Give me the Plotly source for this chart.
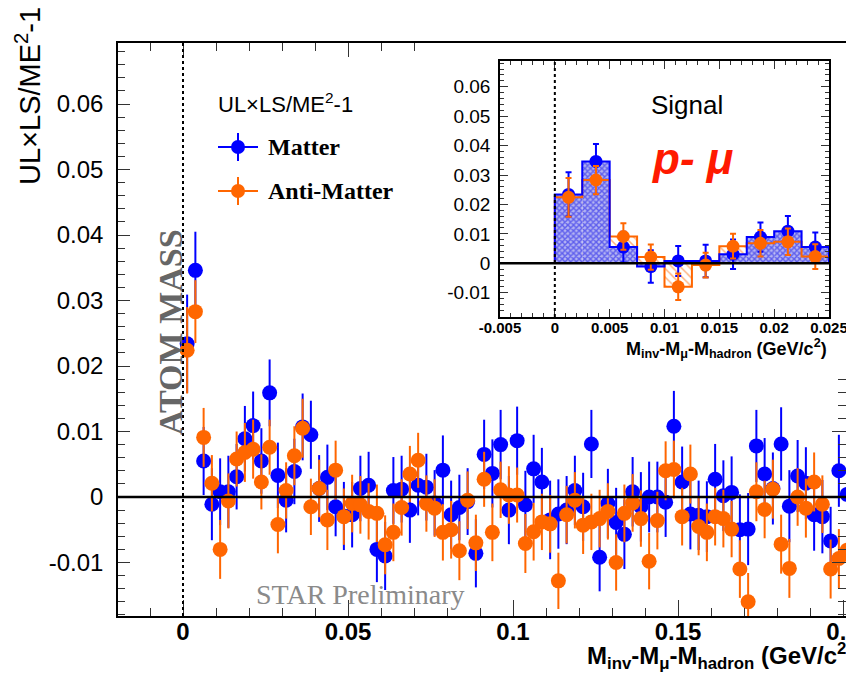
import numpy as np
import plotly.graph_objects as go

# ---------------- data ----------------
BIN_WIDTH = 0.0025  # GeV/c^2

matter_vals = [
    0.0234, 0.0346, 0.0055, -0.0011, 0.0008, 0.0008, 0.0031, 0.0089, 0.0109, 0.0055,
    0.0159, 0.0033, -0.0005, 0.0039, 0.0107, 0.0095, 0.0013, 0.0030, -0.0015, -0.0029,
    -0.0027, 0.0013, 0.0018, -0.0080, -0.0090, 0.0010, 0.0012, -0.0020, 0.0018, 0.0015,
    -0.0009, 0.0041, -0.0027, -0.0016, -0.0007, -0.0086, 0.0065, 0.0036, 0.0080, -0.0020,
    0.0086, -0.0012, 0.0043, 0.0023, -0.0035, -0.0026, -0.0020, 0.0010, -0.0015, 0.0081,
    -0.0092, -0.0010, -0.0039, -0.0057, 0.0008, -0.0015, 0.0000, 0.0000, -0.0008, 0.0108,
    0.0023, -0.0026, -0.0028, -0.0030, 0.0027, 0.0002, 0.0007, -0.0050, -0.0049, 0.0078,
    0.0035, 0.0013, 0.0081, -0.0014, 0.0032, 0.0021, -0.0027, -0.0030, -0.0067, 0.0040,
    0.0004,
]
matter_errs = [
    0.0075, 0.0059, 0.0052, 0.0055, 0.0051, 0.0055, 0.0050, 0.0050, 0.0052, 0.0050,
    0.0051, 0.0050, 0.0049, 0.0050, 0.0051, 0.0052, 0.0051, 0.0050, 0.0045, 0.0052,
    0.0050, 0.0050, 0.0051, 0.0050, 0.0052, 0.0051, 0.0051, 0.0050, 0.0046, 0.0051,
    0.0050, 0.0053, 0.0052, 0.0050, 0.0051, 0.0052, 0.0053, 0.0052, 0.0053, 0.0052,
    0.0052, 0.0052, 0.0052, 0.0052, 0.0060, 0.0053, 0.0052, 0.0053, 0.0052, 0.0052,
    0.0052, 0.0053, 0.0053, 0.0053, 0.0053, 0.0053, 0.0054, 0.0054, 0.0053, 0.0054,
    0.0054, 0.0054, 0.0053, 0.0054, 0.0054, 0.0054, 0.0055, 0.0054, 0.0055, 0.0055,
    0.0055, 0.0055, 0.0056, 0.0055, 0.0055, 0.0055, 0.0055, 0.0056, 0.0052, 0.0055,
    0.0056,
]
antimatter_vals = [
    0.0224, 0.0283, 0.0091, 0.0021, -0.0080, -0.0006, 0.0058, 0.0068, 0.0073, 0.0023,
    0.0076, -0.0042, 0.0010, 0.0063, 0.0105, -0.0015, 0.0013, -0.0035, 0.0041, -0.0030,
    -0.0010, -0.0012, -0.0022, -0.0025, -0.0073, -0.0054, -0.0016, 0.0035, 0.0056, -0.0010,
    -0.0017, -0.0054, -0.0050, -0.0082, -0.0005, -0.0070, 0.0027, -0.0054, 0.0011, 0.0003,
    0.0003, -0.0071, -0.0053, -0.0038, -0.0041, -0.0128, -0.0027, -0.0005, -0.0043, -0.0038,
    -0.0033, -0.0022, -0.0100, -0.0025, -0.0009, -0.0033, -0.0098, -0.0036, 0.0040, 0.0042,
    -0.0030, 0.0035, -0.0045, -0.0054, -0.0030, -0.0033, -0.0049, -0.0110, -0.0160, 0.0008,
    -0.0019, 0.0012, -0.0072, -0.0109, 0.0000, -0.0017, 0.0023, -0.0011, -0.0110, -0.0094,
    -0.0081,
]
antimatter_errs = [
    0.0066, 0.0048, 0.0045, 0.0043, 0.0045, 0.0042, 0.0042, 0.0045, 0.0045, 0.0042,
    0.0042, 0.0044, 0.0043, 0.0045, 0.0045, 0.0043, 0.0044, 0.0046, 0.0045, 0.0043,
    0.0044, 0.0044, 0.0043, 0.0044, 0.0045, 0.0044, 0.0043, 0.0043, 0.0042, 0.0043,
    0.0044, 0.0043, 0.0044, 0.0045, 0.0044, 0.0043, 0.0042, 0.0044, 0.0043, 0.0044,
    0.0042, 0.0045, 0.0044, 0.0043, 0.0044, 0.0043, 0.0044, 0.0043, 0.0044, 0.0043,
    0.0044, 0.0043, 0.0043, 0.0044, 0.0044, 0.0043, 0.0043, 0.0044, 0.0045, 0.0044,
    0.0044, 0.0045, 0.0044, 0.0044, 0.0044, 0.0044, 0.0043, 0.0044, 0.0044, 0.0045,
    0.0044, 0.0045, 0.0045, 0.0045, 0.0044, 0.0045, 0.0045, 0.0044, 0.0045, 0.0045,
    0.0045,
]
N_INSET = 10  # signal region shown in the inset: first 10 bins

main_y_ticks = [-0.01, 0.0, 0.01, 0.02, 0.03, 0.04, 0.05, 0.06]
main_y_labels = ["-0.01", "0", "0.01", "0.02", "0.03", "0.04", "0.05", "0.06"]
main_x_ticks = [0.0, 0.05, 0.10, 0.15, 0.20]
main_x_labels = ["0", "0.05", "0.1", "0.15", "0.2"]
inset_x_ticks = [-0.005, 0.0, 0.005, 0.01, 0.015, 0.02, 0.025]
inset_x_labels = ["-0.005", "0", "0.005", "0.01", "0.015", "0.02", "0.025"]

# ---------------- styling ----------------
W, H = 846, 674
BLUE = "#0000ff"
ORANGE = "#ff6600"
SANS = "Liberation Sans, Arial, Helvetica, sans-serif"
SERIF = "Liberation Serif, Times New Roman, serif"


def fx(px):
    return px / W


def fy(py):
    return 1 - py / H


centers = BIN_WIDTH * (np.arange(len(matter_vals)) + 0.5)
edges = BIN_WIDTH * np.arange(N_INSET + 1)

# main frame (pixel geometry) and ranges
MX0, MX1, MY0, MY1 = 118, 846, 43, 616
x_per_px = 0.2 / (843 - 183)
main_xrange = [(MX0 - 183) * x_per_px, (MX1 - 183) * x_per_px]
y_per_px = 0.01 / 65.5
main_yrange = [(497 - MY1) * y_per_px, (497 - MY0) * y_per_px]

# inset frame
IX0, IX1, IY0, IY1 = 500, 829, 61, 317
iy_per_px = 0.06 / (263.3 - 86.7)
inset_yrange = [(263.3 - IY1) * iy_per_px, (263.3 - IY0) * iy_per_px]
inset_xrange = [-0.005, 0.025]

fig = go.Figure()

# ---------------- main panel ----------------
fig.add_trace(go.Scatter(
    x=centers, y=matter_vals, mode="markers", name="Matter",
    marker=dict(color=BLUE, size=15, line=dict(width=0)),
    error_y=dict(type="data", array=matter_errs, color=BLUE, thickness=2, width=0),
    xaxis="x", yaxis="y", showlegend=False, cliponaxis=True,
))
fig.add_trace(go.Scatter(
    x=centers, y=antimatter_vals, mode="markers", name="Anti-Matter",
    marker=dict(color=ORANGE, size=15, line=dict(width=0)),
    error_y=dict(type="data", array=antimatter_errs, color=ORANGE, thickness=2, width=0),
    xaxis="x", yaxis="y", showlegend=False, cliponaxis=True,
))

# ---------------- inset: signal region ----------------
ins_m = matter_vals[:N_INSET]
ins_a = antimatter_vals[:N_INSET]
ins_c = centers[:N_INSET]

fig.add_trace(go.Bar(
    x=ins_c, y=ins_a, width=BIN_WIDTH, xaxis="x2", yaxis="y2", showlegend=False,
    marker=dict(color="rgba(0,0,0,0)", line=dict(width=0),
                pattern=dict(shape="\\", fgcolor=ORANGE, bgcolor="rgba(255,255,255,0)",
                             size=6, solidity=0.25)),
))
fig.add_trace(go.Bar(
    x=ins_c, y=ins_m, width=BIN_WIDTH, xaxis="x2", yaxis="y2", showlegend=False,
    marker=dict(color="rgba(0,0,0,0)", line=dict(width=0),
                pattern=dict(shape="x", fgcolor="#0a0ae8", bgcolor="#b4b4f2",
                             size=4, solidity=0.6)),
))

step_x = np.concatenate([[edges[0]], edges])
for vals, col in ((ins_a, ORANGE), (ins_m, BLUE)):
    step_y = np.concatenate([[0.0], vals, [0.0]])
    fig.add_trace(go.Scatter(
        x=step_x, y=step_y, mode="lines", line=dict(color=col, width=2, shape="hv"),
        xaxis="x2", yaxis="y2", showlegend=False, hoverinfo="skip",
    ))

fig.add_trace(go.Scatter(
    x=ins_c, y=ins_m, mode="markers", xaxis="x2", yaxis="y2", showlegend=False,
    marker=dict(color=BLUE, size=13, line=dict(width=0)),
    error_y=dict(type="data", array=matter_errs[:N_INSET], color=BLUE, thickness=2, width=3),
))
fig.add_trace(go.Scatter(
    x=ins_c, y=ins_a, mode="markers", xaxis="x2", yaxis="y2", showlegend=False,
    marker=dict(color=ORANGE, size=13, line=dict(width=0)),
    error_y=dict(type="data", array=antimatter_errs[:N_INSET], color=ORANGE, thickness=2, width=3),
))

# ---------------- axes ----------------
tick_common = dict(ticks="inside", tickcolor="#333", tickwidth=1, showgrid=False,
                   zeroline=False, showline=True, linecolor="black", linewidth=1.5,
                   automargin=False)

fig.update_layout(
    width=W, height=H, margin=dict(l=0, r=0, t=0, b=0, pad=0, autoexpand=False),
    paper_bgcolor="white", plot_bgcolor="white", barmode="overlay", showlegend=False,
    xaxis=dict(
        domain=[fx(MX0), fx(MX1)], range=main_xrange, anchor="y",
        tickmode="array", tickvals=main_x_ticks, ticktext=main_x_labels,
        ticklen=16, ticklabeloverflow="allow", ticklabelstandoff=-7,
        tickfont=dict(family=SANS, size=24, color="black", weight="bold"),
        minor=dict(tickmode="linear", tick0=0, dtick=0.01, ticklen=8, ticks="inside",
                   tickcolor="#333"),
        **tick_common,
    ),
    yaxis=dict(
        domain=[fy(MY1), fy(MY0)], range=main_yrange, anchor="x",
        tickmode="array", tickvals=main_y_ticks, ticktext=main_y_labels,
        ticklen=12, ticklabelstandoff=8,
        tickfont=dict(family=SANS, size=24, color="black"),
        minor=dict(tickmode="linear", tick0=0, dtick=0.002, ticklen=7, ticks="inside",
                   tickcolor="#333"),
        **tick_common,
    ),
    # top edge of the main frame: ticks only where the inset pad leaves room
    xaxis3=dict(
        overlaying="x", side="top", range=main_xrange, anchor="y",
        tickmode="array", tickvals=[0.0, 0.05], showticklabels=False, ticklen=14,
        minor=dict(tickmode="array", tickvals=list(np.round(np.arange(-0.01, 0.0701, 0.01), 3)),
                   ticklen=8, ticks="inside", tickcolor="#333"),
        **tick_common,
    ),
    # right edge of the main frame, below the inset pad
    yaxis3=dict(
        overlaying="y", side="right", range=main_yrange, anchor="x",
        tickmode="array", tickvals=[-0.01, 0.0, 0.01], showticklabels=False, ticklen=14,
        minor=dict(tickmode="array", tickvals=list(np.round(np.arange(-0.018, 0.0181, 0.002), 3)),
                   ticklen=8, ticks="inside", tickcolor="#333"),
        **tick_common,
    ),
    xaxis2=dict(
        domain=[fx(IX0), fx(IX1)], range=inset_xrange, anchor="y2", mirror="ticks",
        tickmode="array", tickvals=inset_x_ticks, ticktext=inset_x_labels,
        ticklen=8, ticklabelstandoff=-4, ticklabeloverflow="allow",
        tickfont=dict(family=SANS, size=15, color="black", weight="bold"),
        minor=dict(tickmode="linear", tick0=0, dtick=0.001, ticklen=4, ticks="inside",
                   tickcolor="#333"),
        **tick_common,
    ),
    yaxis2=dict(
        domain=[fy(IY1), fy(IY0)], range=inset_yrange, anchor="x2", mirror="ticks",
        tickmode="array", tickvals=main_y_ticks, ticktext=main_y_labels,
        ticklen=8, ticklabelstandoff=4,
        tickfont=dict(family=SANS, size=19, color="black"),
        minor=dict(tickmode="linear", tick0=0, dtick=0.002, ticklen=4, ticks="inside",
                   tickcolor="#333"),
        **tick_common,
    ),
)

# invisible anchors so the overlay frame axes get drawn
fig.add_trace(go.Scatter(x=[None], y=[None], xaxis="x3", yaxis="y", showlegend=False))
fig.add_trace(go.Scatter(x=[None], y=[None], xaxis="x", yaxis="y3", showlegend=False))

# ---------------- reference lines ----------------
shapes = [
    dict(type="line", xref="x domain", yref="y", x0=0, x1=1, y0=0, y1=0,
         line=dict(color="black", width=2.5), layer="above"),
    dict(type="line", xref="x", yref="y domain", x0=0, x1=0, y0=0, y1=1,
         line=dict(color="black", width=2, dash="dot"), layer="above"),
    dict(type="line", xref="x2 domain", yref="y2", x0=0, x1=1, y0=0, y1=0,
         line=dict(color="black", width=2.5), layer="above"),
    dict(type="line", xref="x2", yref="y2 domain", x0=0, x1=0, y0=0, y1=1,
         line=dict(color="black", width=2, dash="dot"), layer="above"),
]

# legend glyphs (marker with error cross)
for py, col in ((147, BLUE), (191, ORANGE)):
    shapes += [
        dict(type="line", xref="paper", yref="paper", x0=fx(218), x1=fx(258), y0=fy(py), y1=fy(py),
             line=dict(color=col, width=2)),
        dict(type="line", xref="paper", yref="paper", x0=fx(238), x1=fx(238), y0=fy(py - 14), y1=fy(py + 14),
             line=dict(color=col, width=2)),
        dict(type="circle", xref="paper", yref="paper", x0=fx(231), x1=fx(245), y0=fy(py + 7), y1=fy(py - 7),
             fillcolor=col, line=dict(width=0)),
    ]
fig.update_layout(shapes=shapes)

# ---------------- text ----------------
xtitle = "M<sub>inv</sub>-M<sub>μ</sub>-M<sub>hadron</sub> (GeV/c<sup>2</sup>)"
ann = [
    dict(text="UL×LS/ME<sup>2</sup>-1", x=fx(28), y=fy(187), xanchor="center", yanchor="bottom",
         textangle=-90, font=dict(family=SANS, size=29, color="black")),
    dict(text=xtitle, x=fx(585), y=fy(656), xanchor="left", yanchor="middle",
         font=dict(family=SANS, size=24, color="black", weight="bold")),
    dict(text=xtitle, x=fx(829), y=fy(349), xanchor="right", yanchor="middle",
         font=dict(family=SANS, size=18, color="black", weight="bold")),
    dict(text="UL×LS/ME<sup>2</sup>-1", x=fx(216), y=fy(103), xanchor="left", yanchor="middle",
         font=dict(family=SANS, size=22, color="black")),
    dict(text="Matter", x=fx(266), y=fy(147), xanchor="left", yanchor="middle",
         font=dict(family=SERIF, size=24, color="black", weight="bold")),
    dict(text="Anti-Matter", x=fx(266), y=fy(191), xanchor="left", yanchor="middle",
         font=dict(family=SERIF, size=24, color="black", weight="bold")),
    dict(text="ATOM MASS", x=fx(170), y=fy(332), xanchor="center", yanchor="middle",
         textangle=-90, font=dict(family=SERIF, size=34, color="#666666", weight="bold")),
    dict(text="STAR Preliminary", x=fx(360), y=fy(594), xanchor="center", yanchor="middle",
         font=dict(family=SERIF, size=28, color="#8a8a8a")),
    dict(text="Signal", x=fx(687), y=fy(105), xanchor="center", yanchor="middle",
         font=dict(family=SANS, size=26, color="black")),
    dict(text="<b><i>p- μ</i></b>", x=fx(692), y=fy(158), xanchor="center", yanchor="middle",
         font=dict(family=SANS, size=44, color="#ff1a00")),
]
for a in ann:
    a.update(xref="paper", yref="paper", showarrow=False)
fig.update_layout(annotations=ann)

fig.write_html("out.html")
